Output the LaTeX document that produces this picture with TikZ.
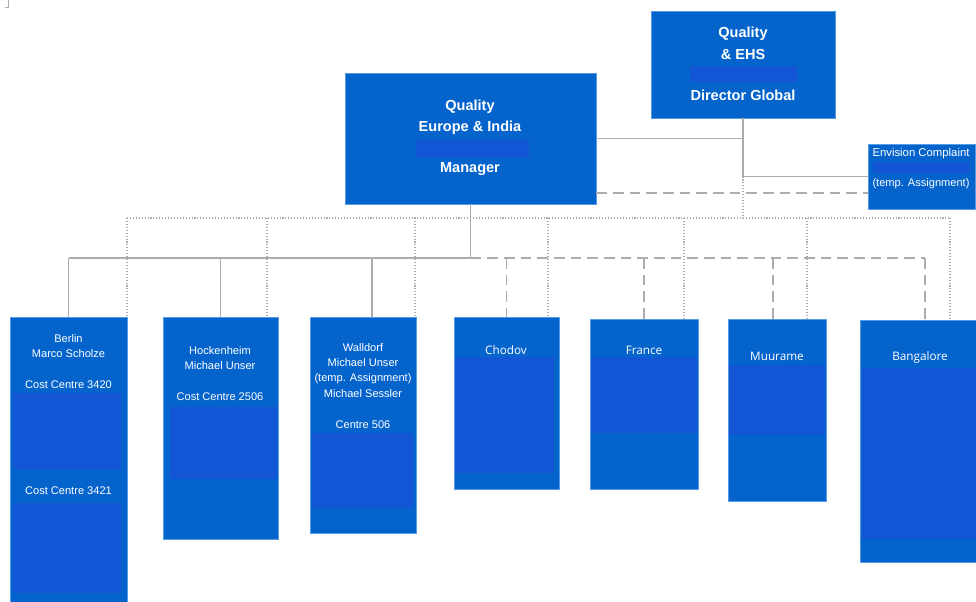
\documentclass[tikz,border=0pt]{standalone}
\usepackage{fontspec}
\setmainfont{Liberation Sans}
\newfontfamily\sitefont{Open Sans}
\usetikzlibrary{fit}
\definecolor{boxblue}{RGB}{5,100,204}
\definecolor{bandblue}{RGB}{18,86,213}
\definecolor{edgeblue}{RGB}{85,155,232}
\definecolor{linegray}{RGB}{172,172,172}
\begin{document}
\begin{tikzpicture}[x=0.75pt,y=-0.75pt,
  orgbox/.style={draw=edgeblue, line width=0.5pt, fill=boxblue, inner sep=0pt},
  band/.style={fill=bandblue},
  title/.style={text=white, font=\bfseries\fontsize{10.9}{12}\selectfont, inner sep=0pt},
  small/.style={text=white, font=\fontsize{8.3}{10}\selectfont, inner sep=0pt},
  site/.style={text=white, font=\sitefont\fontsize{8.8}{10}\selectfont, inner sep=0pt},
  solidline/.style={draw=linegray, line width=1pt},
  dashline/.style={draw=linegray, line width=1.1pt, dash pattern=on 8pt off 4.5pt},
  dotline/.style={draw=linegray, line width=0.9pt, dash pattern=on 0.8pt off 1.4pt},
]
\useasboundingbox (0,0) rectangle (976,601);

% small mark in the corner
\draw[linegray, line width=0.6pt] (8,0) -- (8,7) -- (5,7);

% ---------- top level ----------
\node[orgbox, fit={(651,11) (835,118)}] (ehs) {};
\fill[band] (690,66) rectangle (797,82);
\node[title] (ehsA) at (743,34) {Quality};
\node[title] (ehsB) at (743,54) {\& EHS};
\node[title] (ehsC) at (743,95) {Director Global};

\node[orgbox, fit={(345,73) (596,204)}] (mgr) {};
\fill[band] (416,140) rectangle (529,157);
\node[title] (mgrA) at (470,107) {Quality};
\node[title] (mgrB) at (470,128) {Europe \& India};
\node[title] (mgrC) at (470,169) {Manager};

\node[orgbox, fit={(868,144) (975,209)}] (env) {};
\fill[band] (873,162) rectangle (970,173);
\node[small, font=\fontsize{8.5}{10}\selectfont] (envA) at (921,154) {Envision Complaint};
\node[small, font=\fontsize{8.3}{10}\selectfont] (envB) at (921,184) {(temp. Assignment)};

% ---------- sites ----------
\node[orgbox, fit={(10,317) (127,612)}] (berlin) {};
\fill[band] (13,393) rectangle (121,469);
\fill[band] (13,503) rectangle (121,593);
\node[small] (berA) at (68.5,339) {Berlin};
\node[small] (berB) at (68.5,354) {Marco Scholze};
\node[small] (berC) at (68.5,385) {Cost Centre 3420};
\node[small] (berD) at (68.5,491) {Cost Centre 3421};

\node[orgbox, fit={(163,317) (278,539)}] (hock) {};
\fill[band] (170,407) rectangle (277,479);
\node[small] (hocA) at (220,351) {Hockenheim};
\node[small] (hocB) at (220,366) {Michael Unser};
\node[small] (hocC) at (220,397) {Cost Centre 2506};

\node[orgbox, fit={(310,317) (416,533)}] (walld) {};
\fill[band] (312,433) rectangle (413,508);
\node[small] (walA) at (363,348) {Walldorf};
\node[small] (walB) at (363,363) {Michael Unser};
\node[small] (walC) at (363,379) {(temp. Assignment)};
\node[small] (walD) at (363,394) {Michael Sessler};
\node[small] (walE) at (363,425) {Centre 506};

\node[orgbox, fit={(454,317) (559,489)}] (chodov) {};
\fill[band] (455,357) rectangle (554,473);
\node[site] (choA) at (506,350) {Chodov};

\node[orgbox, fit={(590,319) (698,489)}] (france) {};
\fill[band] (591,357) rectangle (697,433);
\node[site] (fraA) at (644,350) {France};

\node[orgbox, fit={(728,319) (826,501)}] (muur) {};
\fill[band] (729,365) rectangle (825,435);
\node[site] (muuA) at (777,356) {Muurame};

\node[orgbox, fit={(860,320) (990,562)}] (bang) {};
\fill[band] (862,368) rectangle (990,539);
\node[site] (banA) at (920,357) {Bangalore};

% ---------- connectors ----------
\coordinate (dashrow) at (0,193);
\coordinate (dotrow) at (0,218);
\coordinate (busrow) at (0,258);

% reporting lines above the manager
\draw[solidline] (mgr.east) -| (ehs.south);
\draw[solidline] (ehs.south) |- (env.west);
\draw[dashline] (mgr.east |- dashrow) -- (env.west |- dashrow);
\draw[dotline] (ehs.south |- env.west) -- (ehs.south |- dotrow);

% attachment points on the site boxes
\coordinate (dBer) at (127,317);
\coordinate (dHoc) at (267,317);
\coordinate (dWal) at (415,317);
\coordinate (dCho) at (548,317);
\coordinate (dFra) at (684,319);
\coordinate (dMuu) at (807,319);
\coordinate (dBan) at (950,320);
\coordinate (sWal) at (372,317);
\coordinate (sMuu) at (773,319);

% dotted row
\draw[dotline] (dBer |- dotrow) -- (dBan |- dotrow);
\foreach \p in {dBer,dHoc,dWal,dCho,dFra,dMuu,dBan}
  \draw[dotline] (\p |- dotrow) -- (\p);

% solid reporting bus
\draw[solidline] (mgr.south) -- (mgr.south |- busrow);
\draw[solidline] (berlin.north |- busrow) -- (mgr.south |- busrow);
\draw[solidline] (berlin.north |- busrow) -- (berlin.north);
\draw[solidline] (hock.north |- busrow) -- (hock.north);
\draw[solidline] (sWal |- busrow) -- (sWal);

% dashed reporting bus
\draw[dashline] (mgr.south |- busrow) -- (bang.north |- busrow);
\draw[dashline] (chodov.north |- busrow) -- (chodov.north);
\draw[dashline] (france.north |- busrow) -- (france.north);
\draw[dashline] (sMuu |- busrow) -- (sMuu);
\draw[dashline] (bang.north |- busrow) -- (bang.north);
\end{tikzpicture}
\end{document}
